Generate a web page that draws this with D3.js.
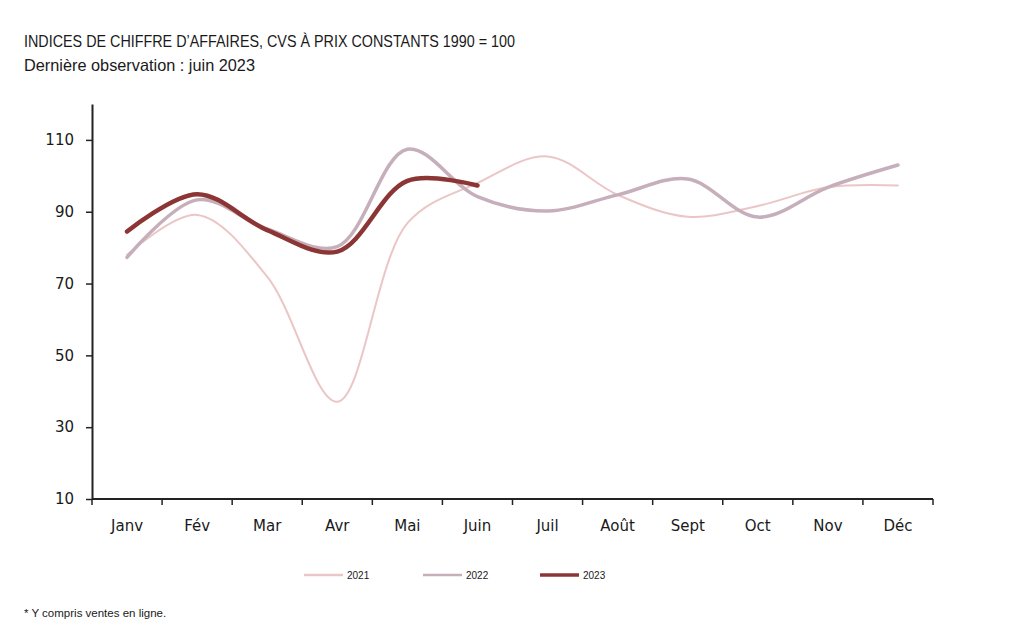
<!DOCTYPE html>
<html>
<head>
<meta charset="utf-8">
<script src="https://cdn.jsdelivr.net/npm/d3@7"></script>
<style>
  body { margin: 0; background: #fff; }
  svg text { fill: #1a1a1a; }
</style>
</head>
<body>
<div id="chart"></div>
<script>
var svgWidth = 1024;
var svgHeight = 630;

// data
var months = ["Janv", "Fév", "Mar", "Avr", "Mai", "Juin", "Juil", "Août", "Sept", "Oct", "Nov", "Déc"];
var years = ["2021", "2022", "2023"];
var values2021 = [78, 89.1, 71.9, 37.1, 86.8, 98, 105.4, 94.7, 88.6, 91.6, 96.8, 97.3];
var values2022 = [77.3, 93.3, 85.2, 80.3, 107.4, 94.2, 90.2, 94.7, 99.1, 88.5, 96.8, 103];
var values2023 = [84.5, 94.9, 84.9, 78.9, 98.6, 97.3];
var yTicks = [10, 30, 50, 70, 90, 110];

var colors = { "2021": "#ebc6c6", "2022": "#c6afba", "2023": "#8c3535" };
var widths = { "2021": 2, "2022": 3.5, "2023": 4.5 };

var margin = { left: 92, top: 104, right: 91, bottom: 131 };
var width = svgWidth - margin.left - margin.right;
var height = svgHeight - margin.top - margin.bottom;

var svg = d3.select("#chart")
  .append("svg")
  .attr("width", svgWidth)
  .attr("height", svgHeight);

// titles
svg.append("text")
  .attr("x", 24).attr("y", 47)
  .attr("font-family", "Liberation Sans, Arial, sans-serif")
  .attr("font-size", "16.5px")
  .attr("textLength", 491).attr("lengthAdjust", "spacingAndGlyphs")
  .text("INDICES DE CHIFFRE D’AFFAIRES, CVS À PRIX CONSTANTS 1990 = 100");

svg.append("text")
  .attr("x", 24).attr("y", 71)
  .attr("font-family", "Liberation Sans, Arial, sans-serif")
  .attr("font-size", "16.5px")
  .attr("textLength", 231).attr("lengthAdjust", "spacingAndGlyphs")
  .text("Dernière observation : juin 2023");

var chartGroup = svg.append("g")
  .attr("transform", `translate(${margin.left}, ${margin.top})`);

var xScale = d3.scaleBand()
  .domain(months)
  .range([0, width]);

var yScale = d3.scaleLinear()
  .domain([10, 120])
  .range([height, 0]);

var leftAxis = d3.axisLeft(yScale).tickValues(yTicks).tickSize(6).tickSizeOuter(0);

// x axis: ticks on band edges, labels in the middle
var xAxis = chartGroup.append("g")
  .attr("transform", `translate(0, ${height})`);
xAxis.append("line")
  .attr("x1", 0).attr("x2", width)
  .attr("stroke", "#222").attr("stroke-width", 2);
xAxis.selectAll(".edge")
  .data(months.concat(["end"]))
  .enter()
  .append("line")
  .attr("x1", (d, i) => i < months.length ? xScale(d) : width)
  .attr("x2", (d, i) => i < months.length ? xScale(d) : width)
  .attr("y1", 0).attr("y2", 6)
  .attr("stroke", "#222").attr("stroke-width", 1.5);
xAxis.selectAll(".lbl")
  .data(months)
  .enter()
  .append("text")
  .attr("x", d => xScale(d) + xScale.bandwidth() / 2)
  .attr("y", 32)
  .attr("text-anchor", "middle")
  .attr("font-family", "DejaVu Sans, Verdana, sans-serif")
  .attr("font-size", "15px")
  .text(d => d);

var yAxis = chartGroup.append("g").call(leftAxis);
yAxis.select(".domain").attr("stroke", "#222").attr("stroke-width", 2);
yAxis.selectAll(".tick line").attr("stroke", "#222").attr("stroke-width", 1.5);
yAxis.selectAll(".tick text")
  .attr("x", -18)
  .attr("font-family", "DejaVu Sans, Verdana, sans-serif")
  .attr("font-size", "15px")
  .attr("fill", "#222");

// lines
var series = [
  { year: "2021", values: values2021 },
  { year: "2022", values: values2022 },
  { year: "2023", values: values2023 }
];

var line = d3.line()
  .x((d, i) => xScale(months[i]) + xScale.bandwidth() / 2)
  .y(d => yScale(d))
  .curve(d3.curveCatmullRom.alpha(0.5));

chartGroup.selectAll(".series")
  .data(series)
  .enter()
  .append("path")
  .attr("d", d => line(d.values))
  .attr("fill", "none")
  .attr("stroke", d => colors[d.year])
  .attr("stroke-width", d => widths[d.year])
  .attr("stroke-linecap", "round");

// legend
var legendX = [304, 423, 540];
var legend = svg.selectAll(".legend")
  .data(years)
  .enter()
  .append("g")
  .attr("transform", (d, i) => `translate(${legendX[i]}, 575)`);
legend.append("line")
  .attr("x1", 0).attr("x2", 39)
  .attr("stroke", d => colors[d])
  .attr("stroke-width", d => Math.max(2.5, widths[d] - 1));
legend.append("text")
  .attr("x", 43).attr("y", 3.5)
  .attr("font-family", "Liberation Sans, Arial, sans-serif")
  .attr("font-size", "10px")
  .text(d => d);

svg.append("text")
  .attr("x", 24).attr("y", 617)
  .attr("font-family", "Liberation Sans, Arial, sans-serif")
  .attr("font-size", "11.5px")
  .text("* Y compris ventes en ligne.");
</script>
</body>
</html>
